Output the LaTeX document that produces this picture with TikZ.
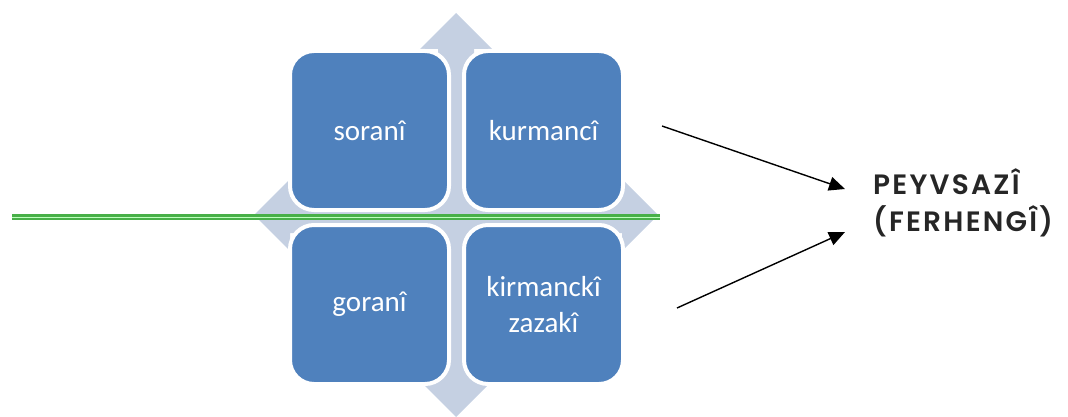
\documentclass[tikz,border=0pt]{standalone}
\usepackage{fontspec}
\setmainfont{Carlito}
\newfontfamily\headfont{Poppins SemiBold}[LetterSpace=8.0]
\usetikzlibrary{arrows.meta,positioning}
\definecolor{boxblue}{RGB}{79,129,189}
\definecolor{crossgray}{RGB}{197,208,226}
\definecolor{linegreen}{RGB}{72,176,72}

\begin{document}
\begin{tikzpicture}[x=1pt,y=-1pt,node distance=15pt]
\tikzstyle{dialect}=[rectangle,rounded corners=24pt,fill=boxblue,draw=white,line width=4pt,minimum size=159pt,outer sep=0pt,text=white,align=center,font=\fontsize{29}{36}\selectfont]
\tikzstyle{link}=[-{Triangle[length=16pt,width=14pt]},line width=1.4pt]
\tikzstyle{greenbar}=[draw=linegreen,line width=2.6pt,double=green!25,double distance=0.9pt]

\useasboundingbox (0,0) rectangle (1068,417);

% four-way arrow behind the boxes
\fill[crossgray,shift={(456,215)}] (0,-202) -- (36,-166) -- (18,-166) -- (18,-18) -- (166,-18) -- (166,-36)
  -- (202,0) -- (166,36) -- (166,18) -- (18,18) -- (18,166) -- (36,166) -- (0,202) -- (-36,166)
  -- (-18,166) -- (-18,18) -- (-166,18) -- (-166,36) -- (-202,0) -- (-166,-36) -- (-166,-18)
  -- (-18,-18) -- (-18,-166) -- (-36,-166) -- cycle;

\node[dialect] (sorani) at (369.5,130.5) {soranî};
\node[dialect] (kurmanci) [right=of sorani] {kurmancî};
\node[dialect] (gorani) [below=of sorani] {goranî};
\node[dialect] (zazaki) [right=of gorani] {kirmanckî\\zazakî};

\coordinate (lineleft) at (12,217);
\coordinate (lineright) at (660,217);
\draw[greenbar] (lineleft) -- (lineright);

\node[anchor=west,align=left,inner sep=0pt,text=black!85,font=\headfont\fontsize{28}{37}\selectfont] (dict) at (873,203) {PEYVSAZÎ\\(FERHENGÎ)};

\coordinate (from1) at (662,126);
\coordinate (from2) at (677,308);
\coordinate (tip1) at (845,189);
\coordinate (tip2) at (845,232);
\draw[link] (from1) -- (tip1);
\draw[link] (from2) -- (tip2);
\end{tikzpicture}
\end{document}
